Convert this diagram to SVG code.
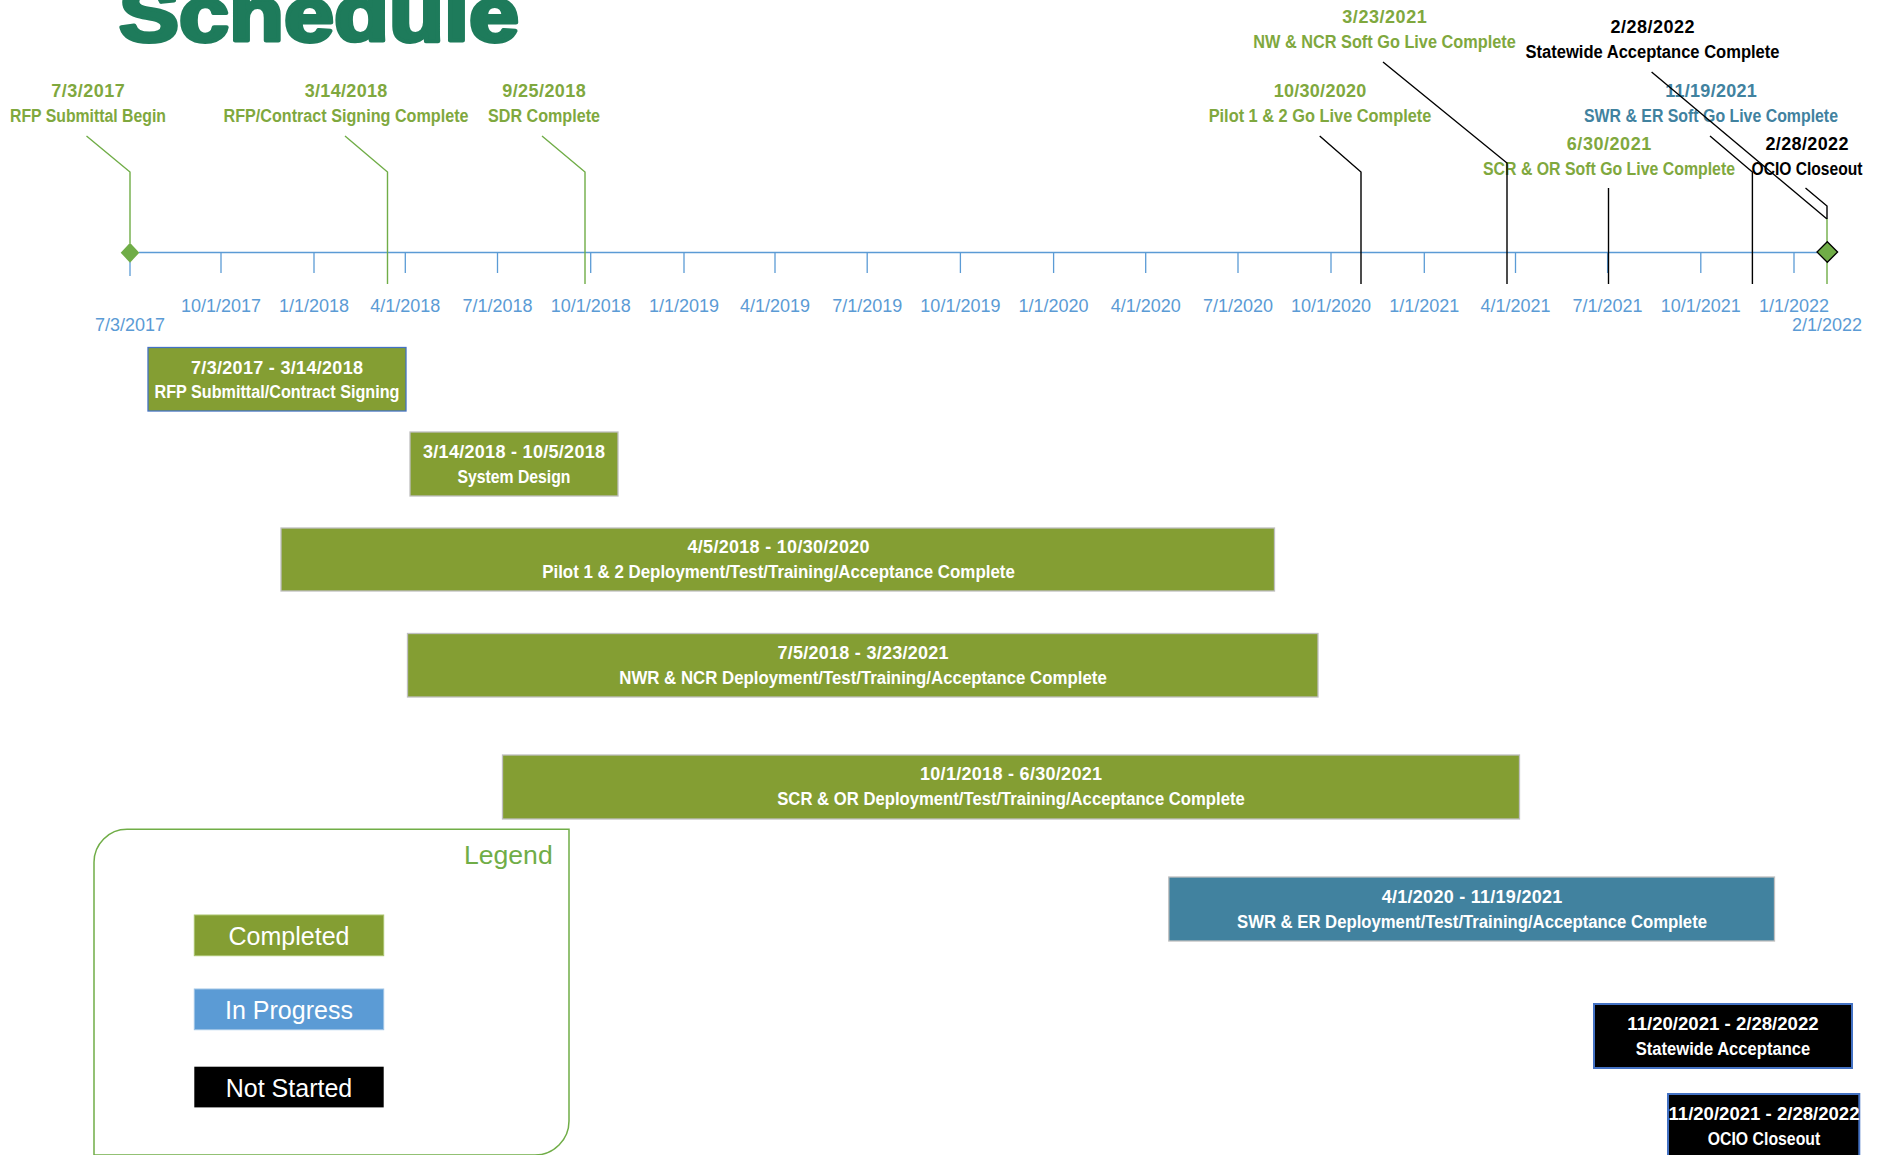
<svg xmlns="http://www.w3.org/2000/svg" width="1885" height="1155" viewBox="0 0 1885 1155">
<style>
  text { font-family: 'Liberation Sans', Arial, sans-serif; }
  .title { font-size: 78px; font-weight: bold; fill: #1E7B5B; stroke: #1E7B5B; stroke-width: 4; stroke-linejoin: round; }
  .tick { stroke: #5B9BD5; stroke-width: 1.3; }
  .ticklbl { font-size: 18px; fill: #5B9BD5; text-anchor: middle; }
  .ms { font-size: 18px; font-weight: bold; text-anchor: middle; }
  .msg { fill: #7FA83E; }
  .msb { fill: #000; }
  .mst { fill: #41829F; }
  .bar { stroke-width: 1.3; }
  .done { fill: #849E33; stroke: #BFBFBF; }
  .prog { fill: #41829F; stroke: #BFBFBF; }
  .todo { fill: #000; stroke: #4472C4; stroke-width: 2; }
  .bt { font-size: 18px; font-weight: bold; fill: #fff; text-anchor: middle; }
  .lg { font-size: 25px; fill: #fff; text-anchor: middle; }
  .lnG { fill: none; stroke: #70AD47; stroke-width: 1.4; }
  .lnK { fill: none; stroke: #000; stroke-width: 1.4; }
</style>

<text class="title" x="119" y="40.7" textLength="400" lengthAdjust="spacingAndGlyphs">Schedule</text>

<g id="axis">
  <line x1="139" y1="252.5" x2="1817" y2="252.5" stroke="#5B9BD5" stroke-width="1.6"/>
  <line class="tick" x1="130" y1="262" x2="130" y2="276"/>
  <line class="tick" x1="221" y1="252.5" x2="221" y2="273"/>
  <line class="tick" x1="314" y1="252.5" x2="314" y2="273"/>
  <line class="tick" x1="405.3" y1="252.5" x2="405.3" y2="273"/>
  <line class="tick" x1="497.5" y1="252.5" x2="497.5" y2="273"/>
  <line class="tick" x1="590.7" y1="252.5" x2="590.7" y2="273"/>
  <line class="tick" x1="684" y1="252.5" x2="684" y2="273"/>
  <line class="tick" x1="775" y1="252.5" x2="775" y2="273"/>
  <line class="tick" x1="867.2" y1="252.5" x2="867.2" y2="273"/>
  <line class="tick" x1="960.4" y1="252.5" x2="960.4" y2="273"/>
  <line class="tick" x1="1053.6" y1="252.5" x2="1053.6" y2="273"/>
  <line class="tick" x1="1145.7" y1="252.5" x2="1145.7" y2="273"/>
  <line class="tick" x1="1238" y1="252.5" x2="1238" y2="273"/>
  <line class="tick" x1="1331" y1="252.5" x2="1331" y2="273"/>
  <line class="tick" x1="1424.3" y1="252.5" x2="1424.3" y2="273"/>
  <line class="tick" x1="1515.5" y1="252.5" x2="1515.5" y2="273"/>
  <line class="tick" x1="1607.6" y1="252.5" x2="1607.6" y2="273"/>
  <line class="tick" x1="1700.8" y1="252.5" x2="1700.8" y2="273"/>
  <line class="tick" x1="1794" y1="252.5" x2="1794" y2="273"/>
  <text class="ticklbl" x="221" y="312">10/1/2017</text>
  <text class="ticklbl" x="314" y="312">1/1/2018</text>
  <text class="ticklbl" x="405.3" y="312">4/1/2018</text>
  <text class="ticklbl" x="497.5" y="312">7/1/2018</text>
  <text class="ticklbl" x="590.7" y="312">10/1/2018</text>
  <text class="ticklbl" x="684" y="312">1/1/2019</text>
  <text class="ticklbl" x="775" y="312">4/1/2019</text>
  <text class="ticklbl" x="867.2" y="312">7/1/2019</text>
  <text class="ticklbl" x="960.4" y="312">10/1/2019</text>
  <text class="ticklbl" x="1053.6" y="312">1/1/2020</text>
  <text class="ticklbl" x="1145.7" y="312">4/1/2020</text>
  <text class="ticklbl" x="1238" y="312">7/1/2020</text>
  <text class="ticklbl" x="1331" y="312">10/1/2020</text>
  <text class="ticklbl" x="1424.3" y="312">1/1/2021</text>
  <text class="ticklbl" x="1515.5" y="312">4/1/2021</text>
  <text class="ticklbl" x="1607.6" y="312">7/1/2021</text>
  <text class="ticklbl" x="1700.8" y="312">10/1/2021</text>
  <text class="ticklbl" x="1794" y="312">1/1/2022</text>
  <text class="ticklbl" x="130" y="331">7/3/2017</text>
  <text class="ticklbl" x="1827" y="331">2/1/2022</text>
</g>

<g id="milestones">
  <g id="ms-rfp-begin">
    <text class="ms msg" x="88" y="97" textLength="73.7">7/3/2017</text>
    <text class="ms msg" x="88" y="122" textLength="156" lengthAdjust="spacingAndGlyphs">RFP Submittal Begin</text>
  </g>
  <g id="ms-contract">
    <text class="ms msg" x="346" y="97" textLength="82.6">3/14/2018</text>
    <text class="ms msg" x="346" y="122" textLength="245" lengthAdjust="spacingAndGlyphs">RFP/Contract Signing Complete</text>
  </g>
  <g id="ms-sdr">
    <text class="ms msg" x="544" y="97" textLength="83.5">9/25/2018</text>
    <text class="ms msg" x="544" y="122" textLength="112" lengthAdjust="spacingAndGlyphs">SDR Complete</text>
  </g>
  <g id="ms-pilot">
    <text class="ms msg" x="1320" y="97" textLength="92.4">10/30/2020</text>
    <text class="ms msg" x="1320" y="122" textLength="222.7" lengthAdjust="spacingAndGlyphs">Pilot 1 &amp; 2 Go Live Complete</text>
  </g>
  <g id="ms-nw">
    <text class="ms msg" x="1384.5" y="23" textLength="84.4">3/23/2021</text>
    <text class="ms msg" x="1384.5" y="48" textLength="262.5" lengthAdjust="spacingAndGlyphs">NW &amp; NCR Soft Go Live Complete</text>
  </g>
  <g id="ms-statewide">
    <text class="ms msb" x="1652.5" y="33.3" textLength="84">2/28/2022</text>
    <text class="ms msb" x="1652.5" y="58.3" textLength="254" lengthAdjust="spacingAndGlyphs">Statewide Acceptance Complete</text>
  </g>
  <g id="ms-swr">
    <text class="ms mst" x="1711" y="97" textLength="91.4">11/19/2021</text>
    <text class="ms mst" x="1711" y="122" textLength="254" lengthAdjust="spacingAndGlyphs">SWR &amp; ER Soft Go Live Complete</text>
  </g>
  <g id="ms-scr">
    <text class="ms msg" x="1609" y="150" textLength="84.4">6/30/2021</text>
    <text class="ms msg" x="1609" y="175" textLength="252" lengthAdjust="spacingAndGlyphs">SCR &amp; OR Soft Go Live Complete</text>
  </g>
  <g id="ms-ocio">
    <text class="ms msb" x="1807" y="150" textLength="83">2/28/2022</text>
    <text class="ms msb" x="1807" y="175" textLength="111" lengthAdjust="spacingAndGlyphs">OCIO Closeout</text>
  </g>
</g>

<g id="connectors">
  <path class="lnG" d="M86.5,136 L130,172 L130,243"/>
  <path class="lnG" d="M345,136 L387.5,172 L387.5,284"/>
  <path class="lnG" d="M542,136 L585,172 L585,284"/>
  <path class="lnK" d="M1319.7,136 L1361,172 L1361,284"/>
  <path class="lnK" d="M1383,62 L1507,163 L1507,284"/>
  <path class="lnK" d="M1608.5,188 L1608.5,284"/>
  <path class="lnK" d="M1710,136 L1752.4,172 L1752.4,284"/>
  <path class="lnK" d="M1651.6,72 L1827,219"/>
  <path class="lnK" d="M1805.5,188 L1827,206 L1827,219"/>
  <path class="lnG" d="M1827,219 L1827,242 M1827,262 L1827,284"/>
</g>

<g id="start-diamond">
  <polygon points="130,242.7 139.3,252.7 130,262.7 120.7,252.7" fill="#70AD47"/>
</g>
<g id="end-diamond">
  <polygon points="1827.3,241.7 1837.6,252 1827.3,262.3 1817,252" fill="#70AD47" stroke="#000" stroke-width="1.3"/>
</g>

<g id="bar-rfp">
  <rect class="bar done" x="148" y="347.5" width="258" height="63.5" style="stroke:#4472C4"/>
  <text class="bt" x="277" y="373.5" textLength="172">7/3/2017 - 3/14/2018</text>
  <text class="bt" x="277" y="398" textLength="245" lengthAdjust="spacingAndGlyphs">RFP Submittal/Contract Signing</text>
</g>
<g id="bar-design">
  <rect class="bar done" x="410" y="432" width="208" height="64"/>
  <text class="bt" x="514" y="458" textLength="182">3/14/2018 - 10/5/2018</text>
  <text class="bt" x="514" y="483" textLength="113" lengthAdjust="spacingAndGlyphs">System Design</text>
</g>
<g id="bar-pilot">
  <rect class="bar done" x="281" y="528" width="993.5" height="63"/>
  <text class="bt" x="778.5" y="553" textLength="182">4/5/2018 - 10/30/2020</text>
  <text class="bt" x="778.5" y="578" textLength="472.6" lengthAdjust="spacingAndGlyphs">Pilot 1 &amp; 2 Deployment/Test/Training/Acceptance Complete</text>
</g>
<g id="bar-nwr">
  <rect class="bar done" x="407.5" y="633.5" width="910.5" height="63.5"/>
  <text class="bt" x="863" y="658.5" textLength="171">7/5/2018 - 3/23/2021</text>
  <text class="bt" x="863" y="683.5" textLength="487.5" lengthAdjust="spacingAndGlyphs">NWR &amp; NCR Deployment/Test/Training/Acceptance Complete</text>
</g>
<g id="bar-scr">
  <rect class="bar done" x="502.5" y="755" width="1017" height="64"/>
  <text class="bt" x="1011" y="780" textLength="182">10/1/2018 - 6/30/2021</text>
  <text class="bt" x="1011" y="805" textLength="467.5" lengthAdjust="spacingAndGlyphs">SCR &amp; OR Deployment/Test/Training/Acceptance Complete</text>
</g>
<g id="bar-swr">
  <rect class="bar prog" x="1168.8" y="877" width="605.7" height="64"/>
  <text class="bt" x="1472" y="902.7" textLength="180.5">4/1/2020 - 11/19/2021</text>
  <text class="bt" x="1472" y="927.7" textLength="470" lengthAdjust="spacingAndGlyphs">SWR &amp; ER Deployment/Test/Training/Acceptance Complete</text>
</g>
<g id="bar-statewide">
  <rect class="todo" x="1594" y="1004" width="258" height="64"/>
  <text class="bt" x="1723" y="1030" textLength="191.3" lengthAdjust="spacingAndGlyphs">11/20/2021 - 2/28/2022</text>
  <text class="bt" x="1723" y="1055" textLength="174.4" lengthAdjust="spacingAndGlyphs">Statewide Acceptance</text>
</g>
<g id="bar-ocio">
  <rect class="todo" x="1668" y="1094" width="191.3" height="70"/>
  <text class="bt" x="1764" y="1120" textLength="191" lengthAdjust="spacingAndGlyphs">11/20/2021 - 2/28/2022</text>
  <text class="bt" x="1764" y="1145" textLength="112.5" lengthAdjust="spacingAndGlyphs">OCIO Closeout</text>
</g>

<g id="legend">
  <path d="M94,1160 L94,862.3 A33,33 0 0 1 127,829.3 L569,829.3 L569,1121 A34,34 0 0 1 535,1155 L94,1155" fill="none" stroke="#70AD47" stroke-width="1.5"/>
  <text x="552.7" y="864" font-size="26.6" fill="#70AD47" text-anchor="end">Legend</text>
  <g id="legend-completed">
    <rect x="194.3" y="915" width="189.4" height="40.7" fill="#849E33" stroke="#A9C46C" stroke-width="1"/>
    <text class="lg" x="289" y="945">Completed</text>
  </g>
  <g id="legend-inprogress">
    <rect x="194.3" y="989" width="189.4" height="40.7" fill="#5B9BD5" stroke="#9DC3E6" stroke-width="1"/>
    <text class="lg" x="289" y="1019">In Progress</text>
  </g>
  <g id="legend-notstarted">
    <rect x="194.3" y="1066.7" width="189.4" height="40.7" fill="#000"/>
    <text class="lg" x="289" y="1096.7">Not Started</text>
  </g>
</g>
</svg>
